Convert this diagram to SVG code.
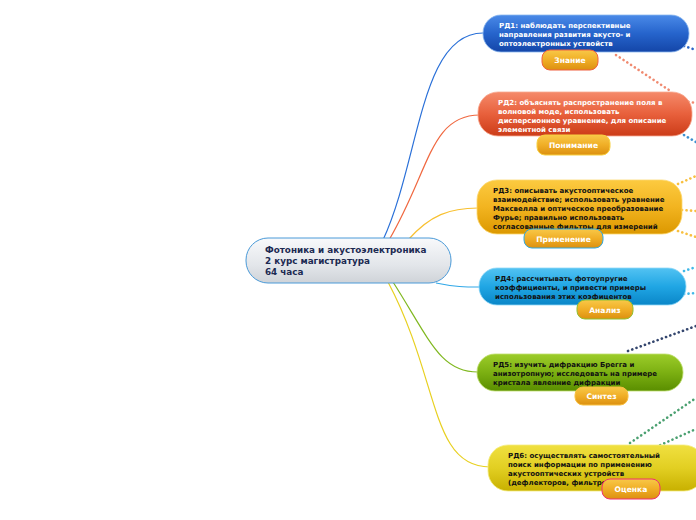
<svg xmlns="http://www.w3.org/2000/svg" width="696" height="520" viewBox="0 0 696 520">
<defs>
<linearGradient id="gRoot" x1="0" y1="0" x2="0" y2="1"><stop offset="0" stop-color="#f8f9fb"/><stop offset="0.6" stop-color="#e3e6ea"/><stop offset="1" stop-color="#cfd3d8"/></linearGradient>
<linearGradient id="g1" x1="0" y1="0" x2="0" y2="1"><stop offset="0" stop-color="#4a8ae8"/><stop offset="0.5" stop-color="#2664cc"/><stop offset="1" stop-color="#1446a8"/></linearGradient>
<linearGradient id="g2" x1="0" y1="0" x2="0" y2="1"><stop offset="0" stop-color="#f58a6a"/><stop offset="0.5" stop-color="#e8603c"/><stop offset="1" stop-color="#cc3c18"/></linearGradient>
<linearGradient id="g3" x1="0" y1="0" x2="0" y2="1"><stop offset="0" stop-color="#fcca40"/><stop offset="0.5" stop-color="#f2b420"/><stop offset="1" stop-color="#dc9800"/></linearGradient>
<linearGradient id="g4" x1="0" y1="0" x2="0" y2="1"><stop offset="0" stop-color="#52c2f2"/><stop offset="0.5" stop-color="#20a6e4"/><stop offset="1" stop-color="#0a86c8"/></linearGradient>
<linearGradient id="g5" x1="0" y1="0" x2="0" y2="1"><stop offset="0" stop-color="#9ccc2a"/><stop offset="0.5" stop-color="#7cb012"/><stop offset="1" stop-color="#5a8e00"/></linearGradient>
<linearGradient id="g6" x1="0" y1="0" x2="0" y2="1"><stop offset="0" stop-color="#f0e040"/><stop offset="0.5" stop-color="#e2cf22"/><stop offset="1" stop-color="#c8b000"/></linearGradient>
<linearGradient id="gB" x1="0" y1="0" x2="0" y2="1"><stop offset="0" stop-color="#f8c848"/><stop offset="0.5" stop-color="#f0ae26"/><stop offset="1" stop-color="#dc9010"/></linearGradient>
<style>
.t{font-family:"DejaVu Sans",Verdana,sans-serif;font-weight:bold;font-size:7px;}
.w{fill:#ffffff;}
.k{fill:#111111;}
.r{font-family:"DejaVu Sans",Verdana,sans-serif;font-weight:bold;font-size:8.8px;fill:#1c2a52;}
.b{font-family:"DejaVu Sans",Verdana,sans-serif;font-weight:bold;font-size:7.6px;fill:#ffffff;text-anchor:middle;}
.c{fill:none;stroke-width:1.2;}
.d{fill:none;stroke-width:2.6;stroke-linecap:round;stroke-dasharray:0.1 4.4;}
.badge{fill:url(#gB);stroke-width:1;}
</style>
</defs>
<rect width="696" height="520" fill="#ffffff"/>
<g id="connectors">
<path class="c" stroke="#2a70d8" d="M383,240 C420,160 420,33 483,33"/>
<path class="c" stroke="#f06840" d="M389,240 C430,170 430,115 480,115"/>
<path class="c" stroke="#f8c030" d="M408,240 C430,215 450,208 478,208"/>
<path class="c" stroke="#30a8e8" d="M436,283 C455,287 465,287 480,287"/>
<path class="c" stroke="#80b820" d="M393,282 C430,340 440,372 478,372"/>
<path class="c" stroke="#e8d020" d="M388,282 C440,380 430,467 490,467"/>
<path class="d" stroke="#2a66c8" d="M684,46 L696,50"/>
<path class="d" stroke="#f08a70" d="M616,55 L672,92"/>
<path class="d" stroke="#f08a70" d="M684,101 L696,103"/>
<path class="d" stroke="#3a90d0" d="M684,135 L696,142"/>
<path class="d" stroke="#f8c040" d="M678,184 L696,176"/>
<path class="d" stroke="#f8c040" d="M682,210 L696,211"/>
<path class="d" stroke="#f8c040" d="M678,231 L696,237"/>
<path class="d" stroke="#40b8e8" d="M684,271 L696,267"/>
<path class="d" stroke="#40b8e8" d="M684,294 L696,293"/>
<path class="d" stroke="#34466e" d="M628,351 L696,326"/>
<path class="d" stroke="#4aa070" d="M630,443 L696,398"/>
<path class="d" stroke="#4aa070" d="M656,447 L696,429"/>
</g>
<g id="root">
<rect x="246" y="238" width="205" height="45" rx="22" fill="url(#gRoot)" stroke="#4a9ad8" stroke-width="1"/>
<text class="r" x="265" y="253">Фотоника и акустоэлектроника</text>
<text class="r" x="265" y="264">2 курс магистратура</text>
<text class="r" x="265" y="275">64 часа</text>
</g>
<g id="rd1">
<rect x="483" y="15" width="206" height="37" rx="18" fill="url(#g1)" stroke="#8ab8f0" stroke-width="0.8"/>
<text class="t w" x="499" y="28">РД1: наблюдать перспективные</text>
<text class="t w" x="499" y="37">направления развития акусто- и</text>
<text class="t w" x="499" y="46">оптоэлектронных уствойств</text>
</g>
<g id="b1">
<rect class="badge" x="542" y="50" width="56" height="20" rx="8" stroke="#f06040"/>
<text class="b" x="570" y="63">Знание</text>
</g>
<g id="rd2">
<rect x="478" y="92" width="214" height="44" rx="20" fill="url(#g2)" stroke="#f8a890" stroke-width="0.8"/>
<text class="t w" x="498" y="105">РД2: объяснять распространение поля в</text>
<text class="t w" x="498" y="114">волновой моде, использовать</text>
<text class="t w" x="498" y="123">дисперсионное уравнение, для описание</text>
<text class="t w" x="498" y="132">элементной связи</text>
</g>
<g id="b2">
<rect class="badge" x="537" y="135" width="73" height="20" rx="8" stroke="#f8d040"/>
<text class="b" x="573.5" y="148">Понимание</text>
</g>
<g id="rd3">
<rect x="477" y="180" width="205" height="54" rx="20" fill="url(#g3)" stroke="#fcd870" stroke-width="0.8"/>
<text class="t k" x="493" y="193">РД3: описывать акустооптическое</text>
<text class="t k" x="493" y="202">взаимодействие; использовать уравнение</text>
<text class="t k" x="493" y="211">Максвелла и оптическое преобразование</text>
<text class="t k" x="493" y="220">Фурье; правильно использовать</text>
<text class="t k" x="493" y="229">согласованные фильтры для измерений</text>
</g>
<g id="b3">
<rect class="badge" x="524" y="229" width="79" height="19" rx="8" stroke="#30a8e0"/>
<text class="b" x="563.5" y="241.5">Применение</text>
</g>
<g id="rd4">
<rect x="479" y="268" width="207" height="37" rx="18" fill="url(#g4)" stroke="#90d8f8" stroke-width="0.8"/>
<text class="t k" x="495" y="281">РД4: рассчитывать фотоупругие</text>
<text class="t k" x="495" y="290">коэффициенты, и привести примеры</text>
<text class="t k" x="495" y="299">использования этих коэфицентов</text>
</g>
<g id="b4">
<rect class="badge" x="577" y="300" width="56" height="19" rx="8" stroke="#90c030"/>
<text class="b" x="605" y="312.5">Анализ</text>
</g>
<g id="rd5">
<rect x="477" y="354" width="206" height="37" rx="18" fill="url(#g5)" stroke="#c0e070" stroke-width="0.8"/>
<text class="t k" x="493" y="367">РД5: изучить дифракцию Брегга и</text>
<text class="t k" x="493" y="376">анизотропную; исследовать на примере</text>
<text class="t k" x="493" y="385">кристала явленние дифракции</text>
</g>
<g id="b5">
<rect class="badge" x="575" y="387" width="53" height="18" rx="8" stroke="#f8c040"/>
<text class="b" x="601.5" y="399">Синтез</text>
</g>
<g id="rd6">
<rect x="488" y="445" width="216" height="46" rx="20" fill="url(#g6)" stroke="#f4ec80" stroke-width="0.8"/>
<text class="t k" x="508" y="458">РД6: осуществлять самостоятельный</text>
<text class="t k" x="508" y="467">поиск информации по применению</text>
<text class="t k" x="508" y="476">акустооптических устройств</text>
<text class="t k" x="508" y="485">(дефлекторов, фильтров)</text>
</g>
<g id="b6">
<rect class="badge" x="602" y="479" width="58" height="20" rx="8" stroke="#f03070"/>
<text class="b" x="631" y="492">Оценка</text>
</g>
</svg>
